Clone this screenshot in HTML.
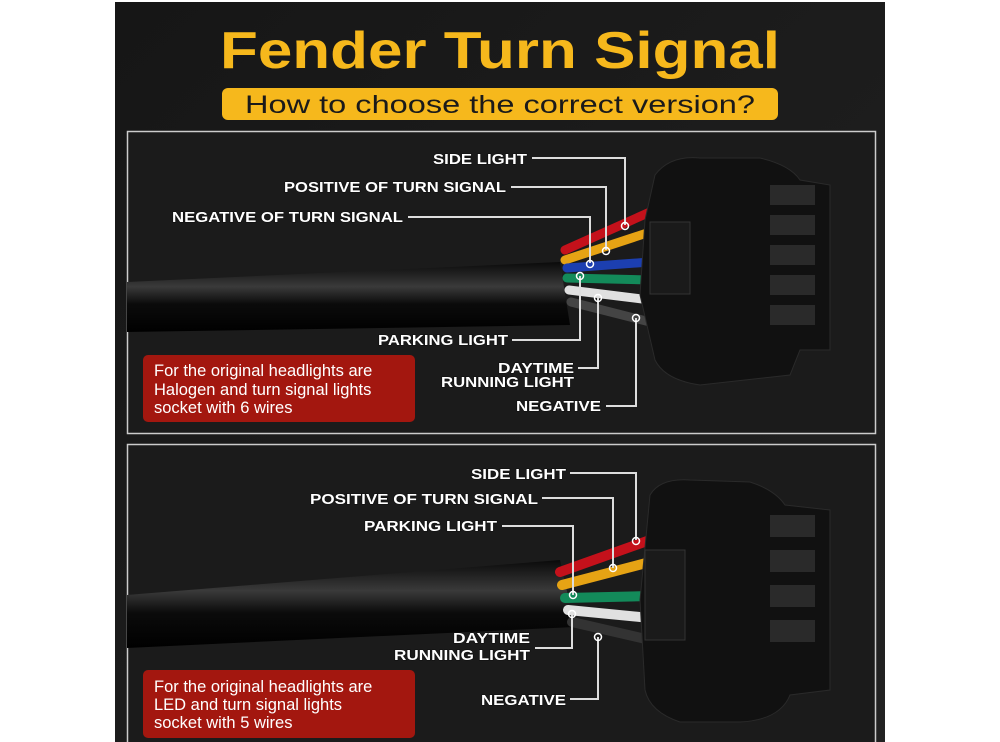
<!DOCTYPE html>
<html><head><meta charset="utf-8"><style>
html,body{margin:0;padding:0;background:#fff;width:1000px;height:742px;overflow:hidden}
svg{display:block}
.lb{font-family:"Liberation Sans",sans-serif;font-weight:bold;font-size:15px;fill:#fff;stroke:#111;stroke-width:1.2px;paint-order:stroke}
.ln{stroke:#ddd;stroke-width:2;fill:none}
.rt{font-family:"Liberation Sans",sans-serif;font-size:16.5px;fill:#fff}
</style></head><body>
<svg width="1000" height="742" viewBox="0 0 1000 742">
<defs>
<linearGradient id="bg" x1="0" y1="0" x2="1" y2="1"><stop offset="0" stop-color="#161616"/><stop offset="1" stop-color="#222"/></linearGradient>
<linearGradient id="cab" x1="0" y1="0" x2="0" y2="1"><stop offset="0" stop-color="#0a0a0a"/><stop offset="0.35" stop-color="#3a3a3a"/><stop offset="0.6" stop-color="#0b0b0b"/><stop offset="1" stop-color="#000"/></linearGradient>
</defs>
<rect x="0" y="0" width="1000" height="742" fill="#fff"/>
<rect x="115" y="2" width="770" height="740" fill="url(#bg)"/>
<text x="500" y="68" text-anchor="middle" font-family="Liberation Sans,sans-serif" font-weight="bold" font-size="52" fill="#f6b81c" textLength="560" lengthAdjust="spacingAndGlyphs">Fender Turn Signal</text>
<rect x="222" y="88" width="556" height="32" rx="6" fill="#f6b81c"/>
<text x="500" y="113" text-anchor="middle" font-family="Liberation Sans,sans-serif" font-size="25" fill="#1a1a1a" textLength="510" lengthAdjust="spacingAndGlyphs">How to choose the correct version?</text>

<!-- panel 1 -->
<rect x="127.5" y="131.5" width="748" height="302" fill="#1b1b1b" stroke="#ccc" stroke-width="1.5"/>
<path d="M127 282 L560 262 L570 325 L127 332 Z" fill="url(#cab)"/>
<g stroke-width="9" stroke-linecap="round" fill="none">
<path d="M565 250 L650 212" stroke="#c4111b"/>
<path d="M565 260 L650 232" stroke="#e6a314"/>
<path d="M567 268 L650 262" stroke="#1c3fb0"/>
<path d="M567 278 L650 280" stroke="#138a5a"/>
<path d="M569 290 L650 300" stroke="#e0e0e0"/>
<path d="M571 302 L650 322" stroke="#444"/>
</g>
<path d="M655 175 Q670 155 700 158 L760 158 Q790 165 800 180 L830 185 L830 350 L800 350 L790 375 L700 385 Q665 380 655 360 L640 295 L645 220 Z" fill="#111" stroke="#2a2a2a"/>
<rect x="650" y="222" width="40" height="72" fill="#1a1a1a" stroke="#333"/>
<g fill="#2a2a2a"><rect x="770" y="185" width="45" height="20"/><rect x="770" y="215" width="45" height="20"/><rect x="770" y="245" width="45" height="20"/><rect x="770" y="275" width="45" height="20"/><rect x="770" y="305" width="45" height="20"/></g>
<text class="lb" x="433" y="164" textLength="94" lengthAdjust="spacingAndGlyphs">SIDE LIGHT</text>
<path class="ln" d="M532 158 H625 V225"/>
<text class="lb" x="284" y="192" textLength="222" lengthAdjust="spacingAndGlyphs">POSITIVE OF TURN SIGNAL</text>
<path class="ln" d="M511 187 H606 V250"/>
<text class="lb" x="172" y="222" textLength="231" lengthAdjust="spacingAndGlyphs">NEGATIVE OF TURN SIGNAL</text>
<path class="ln" d="M408 217 H590 V263"/>
<text class="lb" x="378" y="345" textLength="130" lengthAdjust="spacingAndGlyphs">PARKING LIGHT</text>
<path class="ln" d="M512 340 H580 V276"/>
<text class="lb" x="498" y="373" textLength="76" lengthAdjust="spacingAndGlyphs">DAYTIME</text>
<text class="lb" x="441" y="387" textLength="133" lengthAdjust="spacingAndGlyphs">RUNNING LIGHT</text>
<path class="ln" d="M578 368 H598 V298"/>
<text class="lb" x="516" y="411" textLength="85" lengthAdjust="spacingAndGlyphs">NEGATIVE</text>
<path class="ln" d="M606 406 H636 V318"/>
<g fill="none" stroke="#fff" stroke-width="1.5"><circle cx="625" cy="226" r="3.5"/><circle cx="606" cy="251" r="3.5"/><circle cx="590" cy="264" r="3.5"/><circle cx="580" cy="276" r="3.5"/><circle cx="598" cy="298" r="3.5"/><circle cx="636" cy="318" r="3.5"/></g>
<rect x="143" y="355" width="272" height="67" rx="5" fill="#a3170f"/>
<text class="rt" x="154" y="376">For the original headlights are</text>
<text class="rt" x="154" y="395">Halogen and turn signal lights</text>
<text class="rt" x="154" y="413">socket with 6 wires</text>

<!-- panel 2 -->
<rect x="127.5" y="444.5" width="748" height="310" fill="#1b1b1b" stroke="#ccc" stroke-width="1.5"/>
<path d="M127 595 L560 560 L575 627 L127 648 Z" fill="url(#cab)"/>
<g stroke-width="10" stroke-linecap="round" fill="none">
<path d="M560 572 L650 540" stroke="#c4111b"/>
<path d="M562 585 L650 562" stroke="#e6a314"/>
<path d="M565 598 L650 596" stroke="#138a5a"/>
<path d="M568 610 L650 618" stroke="#e0e0e0"/>
<path d="M572 622 L650 640" stroke="#333"/>
</g>
<path d="M650 495 Q660 478 690 480 L750 482 Q775 490 785 505 L830 510 L830 690 L790 695 Q780 720 740 722 L680 722 Q650 712 645 690 L640 600 Z" fill="#111" stroke="#2a2a2a"/>
<rect x="645" y="550" width="40" height="90" fill="#1a1a1a" stroke="#333"/>
<g fill="#2a2a2a"><rect x="770" y="515" width="45" height="22"/><rect x="770" y="550" width="45" height="22"/><rect x="770" y="585" width="45" height="22"/><rect x="770" y="620" width="45" height="22"/></g>
<text class="lb" x="471" y="479" textLength="95" lengthAdjust="spacingAndGlyphs">SIDE LIGHT</text>
<path class="ln" d="M570 473 H636 V540"/>
<text class="lb" x="310" y="504" textLength="228" lengthAdjust="spacingAndGlyphs">POSITIVE OF TURN SIGNAL</text>
<path class="ln" d="M542 498 H613 V568"/>
<text class="lb" x="364" y="531" textLength="133" lengthAdjust="spacingAndGlyphs">PARKING LIGHT</text>
<path class="ln" d="M502 526 H573 V595"/>
<text class="lb" x="453" y="643" textLength="77" lengthAdjust="spacingAndGlyphs">DAYTIME</text>
<text class="lb" x="394" y="660" textLength="136" lengthAdjust="spacingAndGlyphs">RUNNING LIGHT</text>
<path class="ln" d="M535 648 H572 V615"/>
<text class="lb" x="481" y="705" textLength="85" lengthAdjust="spacingAndGlyphs">NEGATIVE</text>
<path class="ln" d="M570 699 H598 V637"/>
<g fill="none" stroke="#fff" stroke-width="1.5"><circle cx="636" cy="541" r="3.5"/><circle cx="613" cy="568" r="3.5"/><circle cx="573" cy="595" r="3.5"/><circle cx="572" cy="614" r="3.5"/><circle cx="598" cy="637" r="3.5"/></g>
<rect x="143" y="670" width="272" height="68" rx="5" fill="#a3170f"/>
<text class="rt" x="154" y="692">For the original headlights are</text>
<text class="rt" x="154" y="710">LED and turn signal lights</text>
<text class="rt" x="154" y="728">socket with 5 wires</text>
</svg>
</body></html>
